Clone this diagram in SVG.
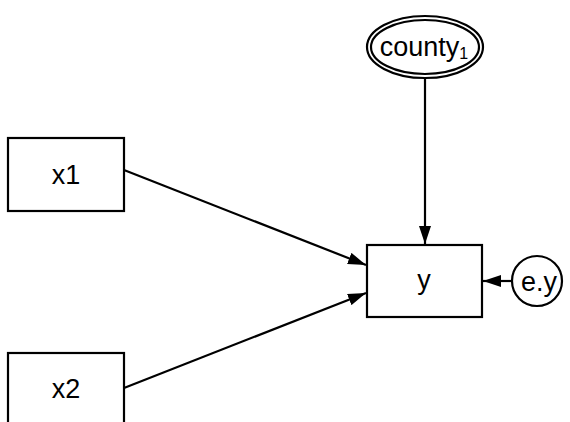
<svg xmlns="http://www.w3.org/2000/svg" width="570" height="422" viewBox="0 0 570 422">
<defs>
<style>
.n{fill:#fff;stroke:#000;stroke-width:2.2}
.t{font-family:"Liberation Sans",Arial,sans-serif;font-size:27px;fill:#000;text-anchor:middle}
.c{stroke:#000;stroke-width:2.2;fill:none;marker-end:url(#ah)}
</style>
<marker id="ah" viewBox="0 0 18 12" refX="18" refY="6" markerWidth="18" markerHeight="12" markerUnits="userSpaceOnUse" orient="auto">
<path d="M0,0 L18,6 L0,12 z" fill="#000"/>
</marker>
</defs>
<rect width="570" height="422" fill="#fff"/>
<g id="connectors">
<line class="c" x1="425" y1="78" x2="425" y2="244"/>
<line class="c" x1="124" y1="170" x2="366" y2="265"/>
<line class="c" x1="124" y1="388" x2="366" y2="293"/>
<line class="c" x1="512" y1="281" x2="483" y2="281"/>
</g>
<g id="county">
<ellipse class="n" cx="425" cy="47" rx="58" ry="31"/>
<ellipse class="n" cx="425" cy="47" rx="54" ry="27"/>
<text class="t" x="424" y="56" font-size="28">county<tspan font-size="16" dy="3">1</tspan></text>
</g>
<g id="x1">
<rect class="n" x="8" y="138" width="116" height="73"/>
<text class="t" x="66" y="184">x1</text>
</g>
<g id="x2">
<rect class="n" x="8" y="353" width="116" height="73"/>
<text class="t" x="66" y="398">x2</text>
</g>
<g id="y">
<rect class="n" x="367" y="245" width="115" height="72"/>
<text class="t" x="424" y="289">y</text>
</g>
<g id="ey">
<circle class="n" cx="537" cy="281" r="25"/>
<text class="t" x="539" y="291">e.y</text>
</g>
</svg>
